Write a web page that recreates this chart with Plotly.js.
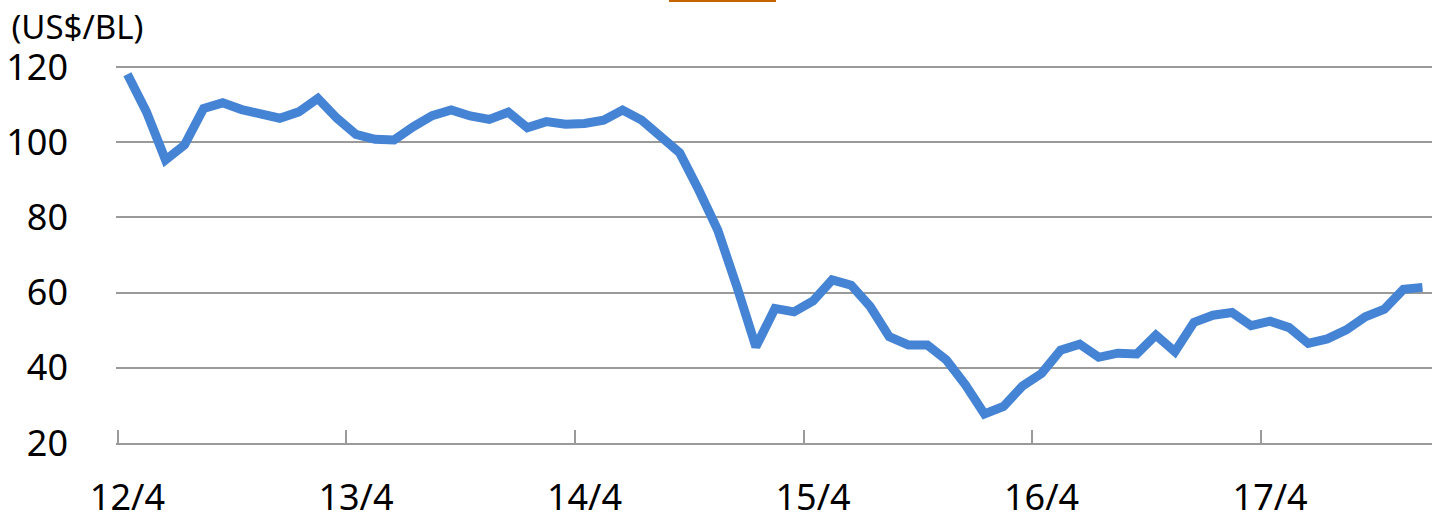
<!DOCTYPE html>
<html>
<head>
<meta charset="utf-8">
<script src="https://cdn.plot.ly/plotly-3.0.1.min.js"></script>
<style>html,body{margin:0;padding:0;background:#fff;}#chart{width:1432px;height:517px;}</style>
</head>
<body>
<div id="chart"></div>
<script>
// Monthly categories, 2012/4 – 2017/12
const months = [
  "12/4","12/5","12/6","12/7","12/8","12/9","12/10","12/11","12/12","13/1","13/2","13/3",
  "13/4","13/5","13/6","13/7","13/8","13/9","13/10","13/11","13/12","14/1","14/2","14/3",
  "14/4","14/5","14/6","14/7","14/8","14/9","14/10","14/11","14/12","15/1","15/2","15/3",
  "15/4","15/5","15/6","15/7","15/8","15/9","15/10","15/11","15/12","16/1","16/2","16/3",
  "16/4","16/5","16/6","16/7","16/8","16/9","16/10","16/11","16/12","17/1","17/2","17/3",
  "17/4","17/5","17/6","17/7","17/8","17/9","17/10","17/11","17/12"
];
// Oil price (US$/BL)
const price = [
  118.1,108.1,95.3,99.3,109.0,110.5,108.7,107.5,106.4,108.1,111.7,106.4,
  102.1,100.8,100.6,104.1,107.1,108.6,107.0,106.1,108.0,103.9,105.5,104.8,
  105.0,105.9,108.6,105.9,101.9,97.2,87.3,76.6,61.6,45.6,55.8,54.9,
  57.8,63.4,62.0,56.3,48.3,46.1,46.1,42.1,35.5,27.7,29.7,35.2,
  38.5,44.7,46.3,42.8,43.9,43.7,48.7,44.3,52.1,54.0,54.7,51.2,
  52.4,50.7,46.5,47.7,50.1,53.6,55.6,60.9,61.4
];
const yTicks = [20,40,60,80,100,120];
const unitLabel = "(US$/BL)";

const font = "'Noto Sans', 'Open Sans', sans-serif";
const trace = {
  x: months, y: price, type: "scatter", mode: "lines",
  line: {color: "#4583D4", width: 9, shape: "linear"},
  hoverinfo: "skip", showlegend: false
};
const layout = {
  width: 1432, height: 517,
  margin: {l: 116, r: 0, t: 66, b: 74},
  paper_bgcolor: "#fff", plot_bgcolor: "#fff",
  font: {family: font, size: 36, color: "#000"},
  showlegend: false,
  title: {text: unitLabel, x: 0.008, xanchor: "left", xref: "container",
          y: 1 - 27/517, yanchor: "middle", yref: "container",
          font: {family: font, size: 33, color: "#000"}},
  xaxis: {
    type: "category", categoryorder: "array", categoryarray: months,
    range: [-0.6, months.length - 0.5],
    tickmode: "linear", tick0: 0, dtick: 12, tickson: "boundaries",
    tickangle: 0,
    ticks: "inside", ticklen: 13, tickwidth: 2, tickcolor: "#9a9a9a",
    showline: true, linecolor: "#9a9a9a", linewidth: 2,
    showgrid: false, zeroline: false,
    tickfont: {family: font, size: 36, color: "#000"},
    ticklabelstandoff: 22, fixedrange: true
  },
  yaxis: {
    range: [20, 120.3], tickvals: yTicks, ticktext: yTicks.map(String),
    showgrid: true, gridcolor: "#9a9a9a", gridwidth: 2,
    showline: false, zeroline: false, ticks: "",
    tickfont: {family: font, size: 36, color: "#000"},
    ticklabelstandoff: 47, fixedrange: true
  },
  shapes: [{
    type: "line", xref: "paper", yref: "paper",
    x0: (669-116)/1316, x1: (776-116)/1316,
    y0: 1 + (66-0.5)/377, y1: 1 + (66-0.5)/377,
    line: {color: "#C86400", width: 3}
  }]
};
Plotly.newPlot("chart", [trace], layout, {displayModeBar: false, staticPlot: true});
</script>
</body>
</html>
